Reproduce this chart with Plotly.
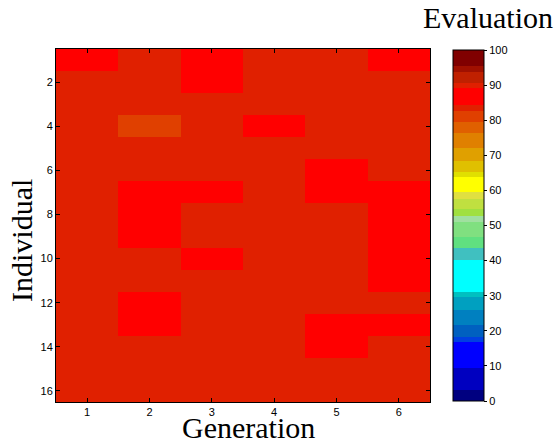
import plotly.graph_objects as go

generations = [1, 2, 3, 4, 5, 6]
individuals = list(range(1, 17))

# Evaluation values per generation (rows = individuals 1..16)
gen1 = [86.4, 83.6, 83.5, 83.8, 83.4, 83.7, 83.6, 83.5, 83.9, 83.4, 83.6, 83.7, 83.5, 83.8, 83.6, 83.5]
gen2 = [83.7, 83.5, 83.8, 81.2, 83.6, 83.4, 86.1, 86.3, 85.9, 83.7, 83.5, 86.2, 86.0, 83.6, 83.8, 83.5]
gen3 = [86.5, 86.2, 83.6, 83.7, 83.5, 83.8, 86.0, 83.6, 83.4, 86.3, 83.7, 83.5, 83.6, 83.8, 83.5, 83.6]
gen4 = [83.8, 83.6, 83.5, 86.4, 83.7, 83.6, 83.5, 83.8, 83.6, 83.4, 83.5, 83.7, 83.6, 83.5, 83.8, 83.6]
gen5 = [83.6, 83.5, 83.7, 83.6, 83.8, 86.2, 86.5, 83.6, 83.5, 83.7, 83.6, 83.8, 86.1, 86.3, 83.5, 83.7]
gen6 = [86.3, 83.7, 83.6, 83.5, 83.7, 83.6, 86.4, 86.2, 86.0, 86.5, 86.1, 83.6, 86.3, 83.5, 83.7, 83.6]

columns = [gen1, gen2, gen3, gen4, gen5, gen6]
z = [[columns[g][i] for g in range(len(generations))] for i in range(len(individuals))]

# Discrete colormap: band edges (0..100) and band colours
band_edges = [0, 3, 9.5, 16.8, 18.3, 21.6, 25.9, 29.6, 31, 40.3, 43.7, 46.8, 50.9,
              52.8, 54.7, 57.6, 59.5, 63.7, 65.3, 68.3, 72, 76.3, 79.6, 82.5, 84.4,
              89.1, 90.6, 93.7, 95.3, 100]
band_colors = ["#000080", "#0000c0", "#0000ff", "#0040e0", "#0060c0", "#0080c0",
               "#00a0c0", "#00c0c0", "#00ffff", "#40c0c0", "#60e080", "#80e080",
               "#a0e0a0", "#a0e040", "#c0e040", "#e0e040", "#ffff00", "#e0e000",
               "#e0c000", "#e0a000", "#e08000", "#e06000", "#e04000", "#e02000",
               "#ff0000", "#e02000", "#c02000", "#a01000", "#800000"]

colorscale = []
for i, c in enumerate(band_colors):
    a = band_edges[i] / 100.0
    b = band_edges[i + 1] / 100.0
    colorscale.append([a, c])
    colorscale.append([b, c])

W, H = 557, 446
L, R, T, B = 56, 127, 49, 44
pw, ph = W - L - R, H - T - B

def px(x):
    return (x - L) / pw

def py(y):
    return (H - B - y) / ph

fig = go.Figure(go.Heatmap(
    z=z, x=generations, y=individuals,
    colorscale=colorscale, zmin=0, zmax=100,
    colorbar=dict(
        x=px(453), xanchor="left", xref="paper",
        y=py(401), yanchor="bottom", len=351 / ph, lenmode="fraction",
        thickness=31, thicknessmode="pixels",
        outlinewidth=1, outlinecolor="black",
        tickvals=[0, 10, 20, 30, 40, 50, 60, 70, 80, 90, 100],
        ticks="outside", ticklen=3, tickcolor="black",
        tickfont=dict(family="Liberation Sans", size=11, color="black"),
        ypad=0, xpad=0,
    ),
))

serif = dict(family="Liberation Serif", size=30, color="black")

fig.update_layout(
    width=W, height=H,
    margin=dict(l=L, r=R, t=T, b=B, autoexpand=False),
    paper_bgcolor="white", plot_bgcolor="white",
    xaxis=dict(
        tickvals=generations, ticks="inside", ticklen=4, tickcolor="black",
        showline=True, linecolor="black", linewidth=1, mirror="ticks",
        tickfont=dict(family="Liberation Sans", size=11, color="black"),
        range=[0.5, 6.5], showgrid=False, zeroline=False, automargin=False,
    ),
    yaxis=dict(
        tickvals=[2, 4, 6, 8, 10, 12, 14, 16], ticks="inside", ticklen=4, tickcolor="black",
        showline=True, linecolor="black", linewidth=1, mirror="ticks",
        tickfont=dict(family="Liberation Sans", size=11, color="black"),
        range=[16.5, 0.5], showgrid=False, zeroline=False, automargin=False,
    ),
    annotations=[
        dict(text="Evaluation", xref="paper", yref="paper", x=px(488), y=py(18),
             xanchor="center", yanchor="middle", showarrow=False, font=serif),
        dict(text="Generation", xref="paper", yref="paper", x=px(249), y=py(427),
             xanchor="center", yanchor="middle", showarrow=False, font=serif),
        dict(text="Individual", xref="paper", yref="paper", x=px(21), y=py(241),
             xanchor="center", yanchor="middle", showarrow=False, textangle=-90, font=serif),
    ],
)

fig.write_html("out.html", config={"displayModeBar": False},
               post_script="document.body.style.margin='0';document.body.style.overflow='hidden';")
